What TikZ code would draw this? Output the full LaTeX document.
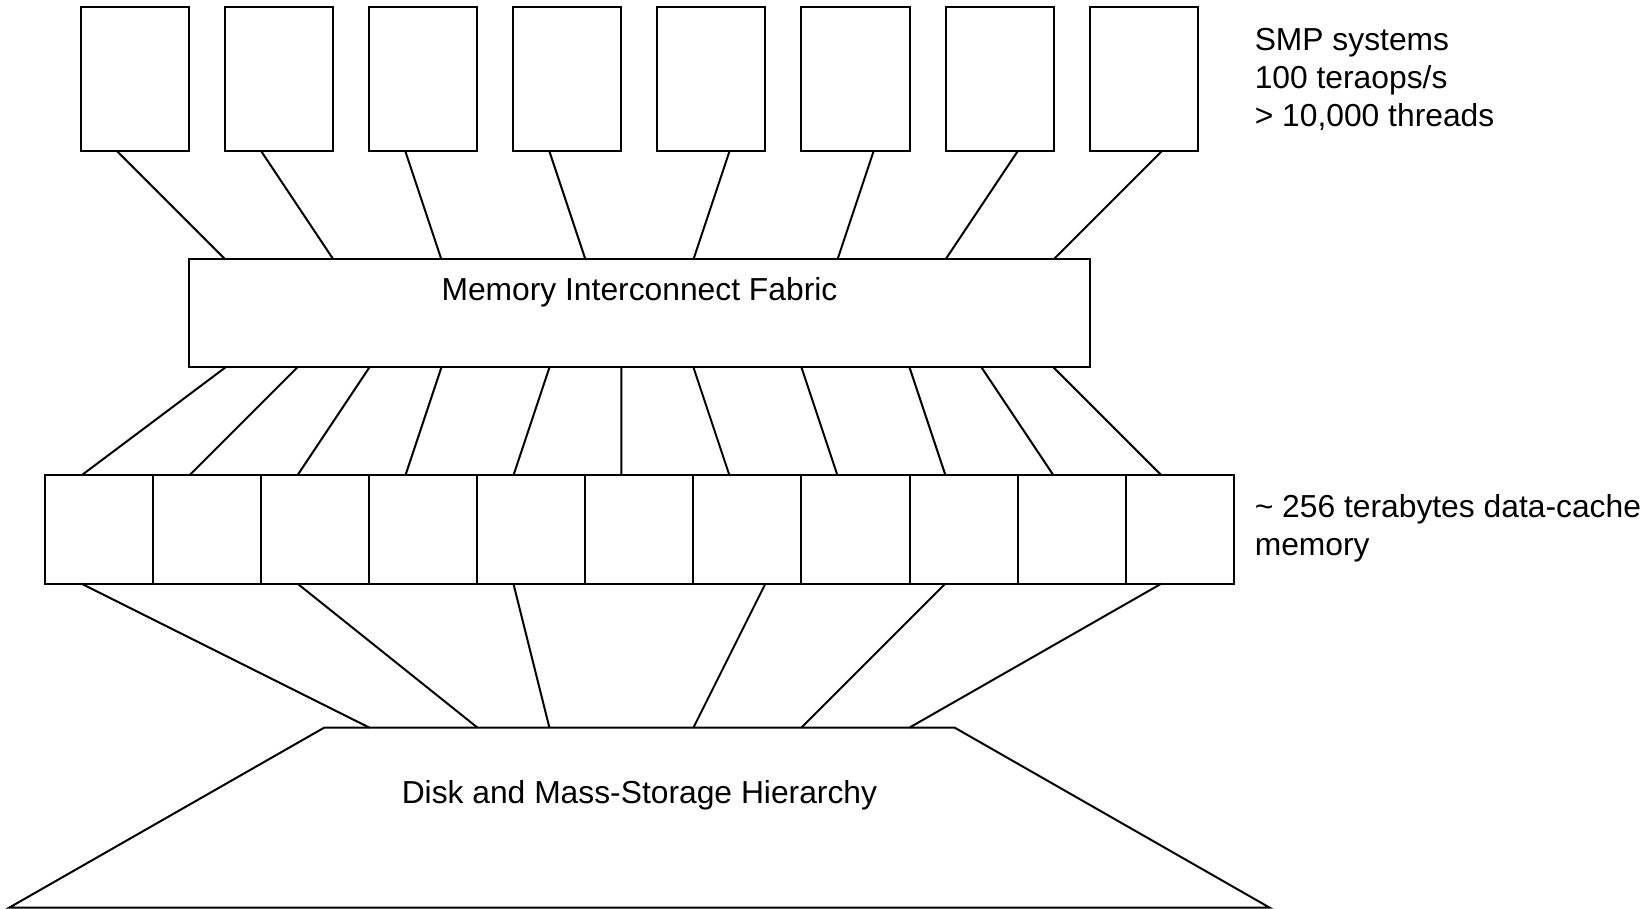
\documentclass[tikz,border=0pt]{standalone}
\usepackage{fontspec}
\setmainfont{Liberation Sans}
\usetikzlibrary{calc}

\begin{document}
\begin{tikzpicture}[x=17.1pt, y=-17.1pt,
  line width=0.95pt,
  every node/.style={font=\fontsize{15.1pt}{18pt}\selectfont},
  smpbox/.style={draw, rectangle, minimum width=51.3pt, minimum height=68.4pt, inner sep=0pt, outer sep=0pt},
  cachecell/.style={draw, rectangle, minimum width=51.3pt, minimum height=51.3pt, inner sep=0pt, outer sep=0pt},
  fabricbox/.style={draw, rectangle, minimum width=427.5pt, minimum height=51.3pt, inner sep=0pt, outer sep=0pt},
  caption/.style={inner sep=0pt, align=left},
  title/.style={inner sep=0pt, anchor=base}
]
\useasboundingbox (-1.2573,-0.2047) rectangle (44.591,25.029);

% SMP systems
\foreach \i in {1,...,8}
  \node[smpbox] (sys\i) at ({2.5+4*(\i-1)},2) {};

% interconnect fabric
\node[fabricbox] (fabric) at (16.5,8.5) {};
\node[title] (fabriclabel) at ($(fabric.north)+(0,1.13)$) {Memory Interconnect Fabric};

% data-cache memory banks
\foreach \k in {1,...,11}
  \node[cachecell] (cell\k) at ({1.5+3*(\k-1)},14.5) {};

% disk and mass-storage trapezoid
\coordinate (disktl) at (7.75,20);
\coordinate (disktr) at (25.25,20);
\coordinate (diskbr) at (34,25);
\coordinate (diskbl) at (-1,25);
\draw (disktl) -- (disktr) -- (diskbr) -- (diskbl) -- cycle;
\node[title] (disklabel) at (16.5,22.1) {Disk and Mass-Storage Hierarchy};
\foreach \d in {9,12,14,18,21,24}
  \coordinate (diskin\d) at (\d,20);

% systems to fabric
\foreach \i/\f in {1/1,2/4,3/7,4/11}
  \draw ($(sys\i.south west)!1/3!(sys\i.south east)$) -- ($(fabric.north west)+(\f,0)$);
\foreach \i/\f in {5/14,6/18,7/21,8/24}
  \draw ($(sys\i.south west)!2/3!(sys\i.south east)$) -- ($(fabric.north west)+(\f,0)$);

% fabric to memory banks
\foreach \k/\f in {1/1,2/3,3/5,4/7,5/10,6/12,7/14,8/17,9/20,10/22,11/24}
  \draw ($(fabric.south west)+(\f,0)$) -- ($(cell\k.north west)!1/3!(cell\k.north east)$);

% memory banks to disk
\foreach \k/\t/\d in {1/1/9,3/1/12,5/1/14,7/2/18,9/1/21,11/1/24}
  \draw ($(cell\k.south west)!\t/3!(cell\k.south east)$) -- (diskin\d);

% annotations (base anchor sits on the last line)
\node[caption, anchor=base west] (smpnote) at (33.56,3.30)
  {SMP systems\\100 teraops/s\\> 10,000 threads};
\node[caption, anchor=base west] (cachenote) at (33.56,15.22)
  {\textasciitilde{} 256 terabytes data-cache\\memory};
\end{tikzpicture}
\end{document}
